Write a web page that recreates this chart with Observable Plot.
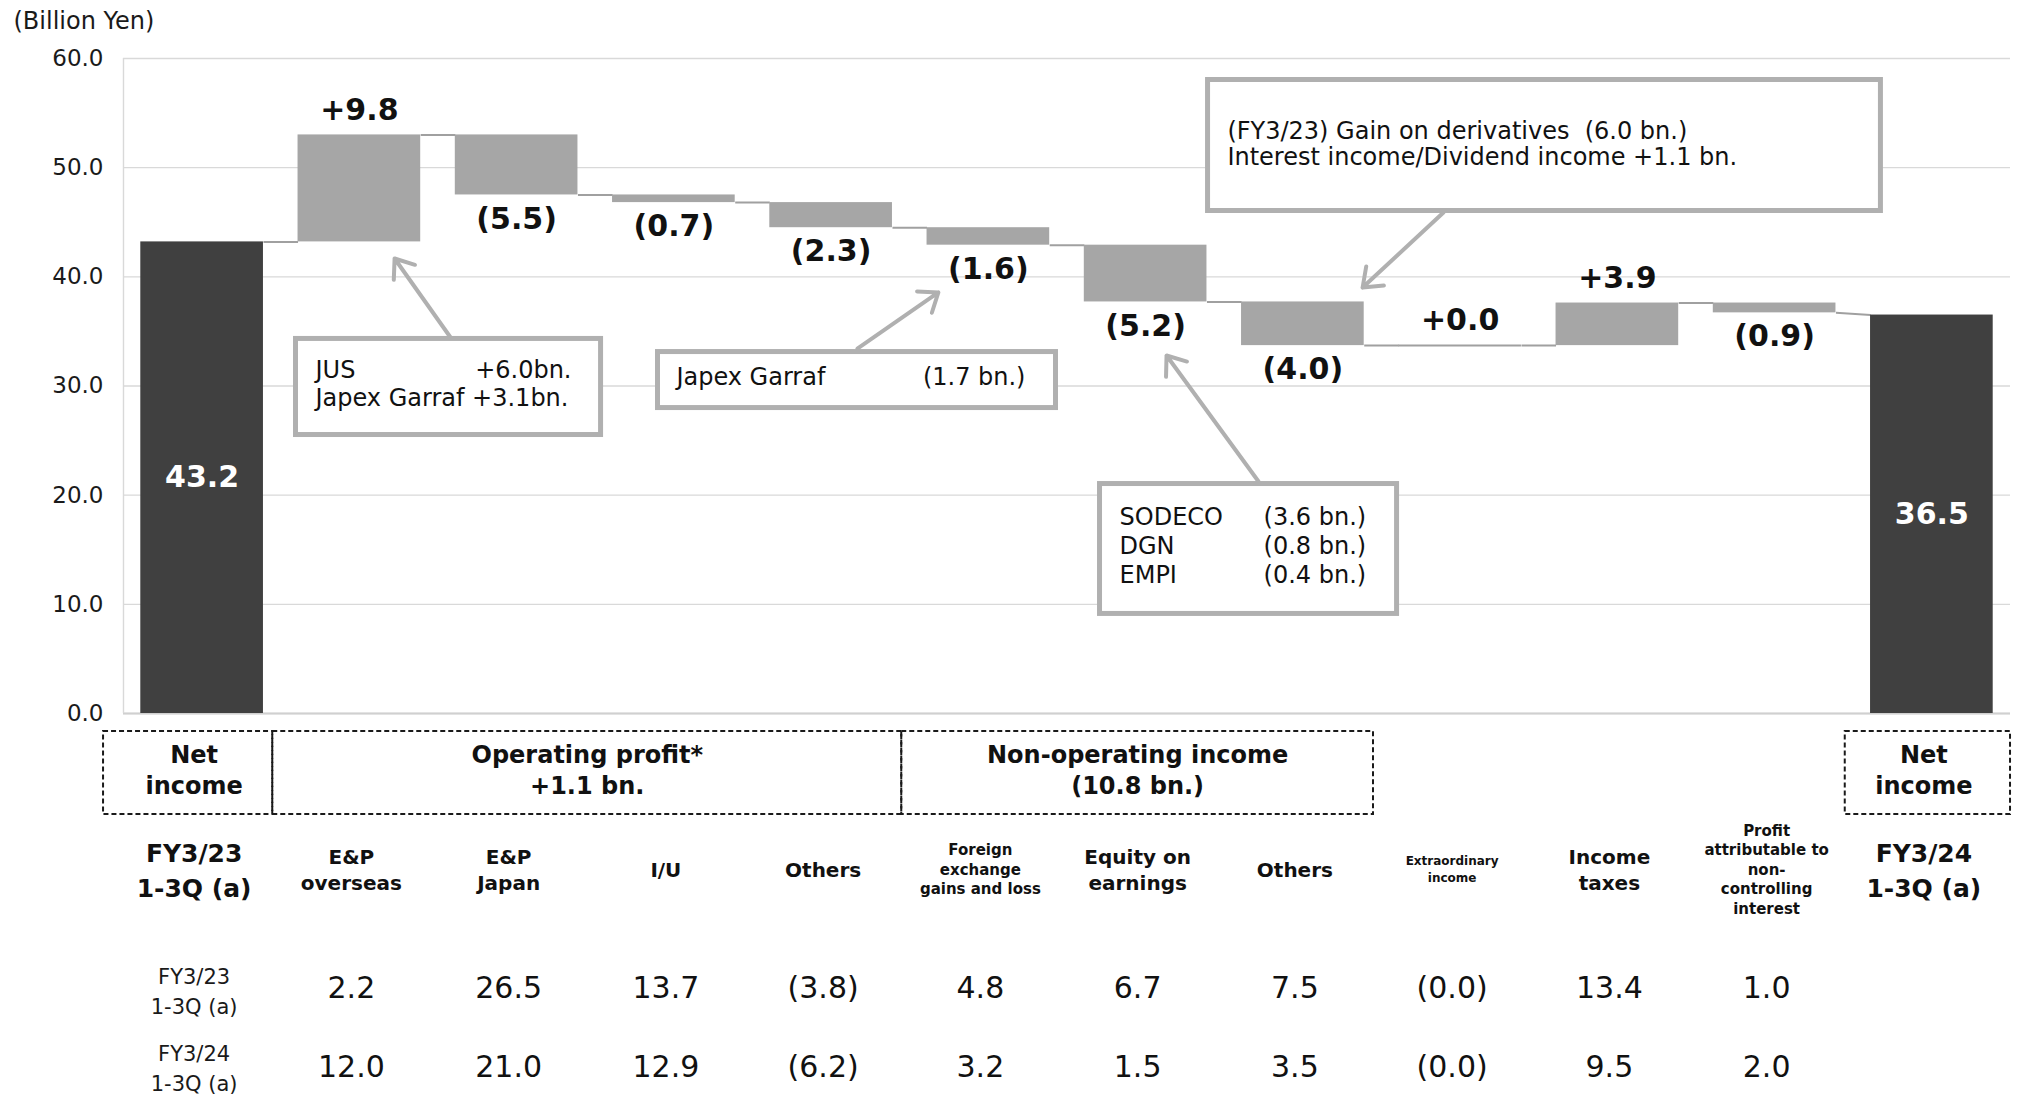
<!DOCTYPE html>
<html>
<head>
<meta charset="utf-8">
<script src="https://cdn.jsdelivr.net/npm/d3@7"></script>
<script src="https://cdn.jsdelivr.net/npm/@observablehq/plot@0.6"></script>
<style>
  html, body { margin: 0; padding: 0; background: #fff; }
  svg { display: block; }
</style>
</head>
<body>
<script>
// ---- Net income bridge (billion yen) ----
const startValue = 43.2;   // FY3/23 1-3Q net income
const endValue = 36.5;     // FY3/24 1-3Q net income
const changes = [9.8, -5.5, -0.7, -2.3, -1.6, -5.2, -4.0, 0.0, 3.9, -0.9];

const columnLabels = [
  "FY3/23\n1-3Q (a)",
  "E&P\noverseas",
  "E&P\nJapan",
  "I/U",
  "Others",
  "Foreign\nexchange\ngains and loss",
  "Equity on\nearnings",
  "Others",
  "Extraordinary\nincome",
  "Income\ntaxes",
  "Profit\nattributable to\nnon-\ncontrolling\ninterest",
  "FY3/24\n1-3Q (a)"
];

const rowLabels = ["FY3/23\n1-3Q (a)", "FY3/24\n1-3Q (a)"];
const prevYear = [2.2, 26.5, 13.7, -3.8, 4.8, 6.7, 7.5, -0.0, 13.4, 1.0];
const currYear = [12.0, 21.0, 12.9, -6.2, 3.2, 1.5, 3.5, -0.0, 9.5, 2.0];

const groupLabels = ["Net\nincome", "Operating profit*\n+1.1 bn.", "Non-operating income\n(10.8 bn.)", "Net\nincome"];
const groupFrom = [0, 1, 5, 11];
const groupTo = [0, 4, 7, 11];

const yTicks = [0, 10, 20, 30, 40, 50, 60];

// ---- derived tables ----
const fmt = v => (v < 0 || Object.is(v, -0)) ? `(${Math.abs(v).toFixed(1)})` : v.toFixed(1);
const fmtChange = v => v >= 0 ? "+" + v.toFixed(1) : fmt(v);

const bars = [{i: 0, y1: 0, y2: startValue, total: true}];
let level = startValue;
changes.forEach((c, k) => {
  const next = +(level + c).toFixed(1);
  bars.push({i: k + 1, y1: level, y2: next, change: c, total: false});
  level = next;
});
bars.push({i: 11, y1: 0, y2: endValue, total: true});

const half = 0.39; // half bar width, in column units
const connectors = d3.range(bars.length - 1).map(k => ({
  x1: bars[k].i + half, y1: bars[k].y2,
  x2: bars[k + 1].i - half, y2: bars[k + 1].total ? bars[k + 1].y2 : bars[k + 1].y1
}));

const deltaBars = bars.filter(d => !d.total);
const totalBars = bars.filter(d => d.total);
const groups = groupLabels.map((label, k) => ({label, from: groupFrom[k], to: groupTo[k]}));
const lastCol = columnLabels.length - 1;

// ---- callout notes (placed in chart units) ----
const noteStroke = "#b0b0b0";
const noteBoxes = [
  {x1: 0.597, x2: 2.537, y1: 25.51, y2: 34.31},
  {x1: 2.899, x2: 5.430, y1: 27.98, y2: 33.11},
  {x1: 5.710, x2: 7.599, y1: 9.12, y2: 21.02},
  {x1: 6.397, x2: 10.676, y1: 46.03, y2: 58.03}
];
const noteArrows = [
  {x1: 1.58, y1: 34.44, x2: 1.224, y2: 41.68},
  {x1: 4.167, y1: 33.43, x2: 4.682, y2: 38.57},
  {x1: 6.718, y1: 21.25, x2: 6.133, y2: 32.79},
  {x1: 7.894, y1: 45.89, x2: 7.38, y2: 39.02}
];
const noteTextStart = [
  {x: 0.721, y: 31.42, text: "JUS"},
  {x: 0.721, y: 28.85, text: "Japex Garraf +3.1bn."},
  {x: 3.016, y: 30.78, text: "Japex Garraf"},
  {x: 5.834, y: 17.95, text: "SODECO"},
  {x: 5.834, y: 15.30, text: "DGN"},
  {x: 5.834, y: 12.64, text: "EMPI"},
  {x: 6.75, y: 17.95, text: "(3.6 bn.)"},
  {x: 6.75, y: 15.30, text: "(0.8 bn.)"},
  {x: 6.75, y: 12.64, text: "(0.4 bn.)"},
  {x: 6.52, y: 53.31, text: "(FY3/23) Gain on derivatives\u00a0 (6.0 bn.)"},
  {x: 6.52, y: 50.93, text: "Interest income/Dividend income +1.1 bn."}
];
const noteTextEnd = [
  {x: 2.349, y: 31.42, text: "+6.0bn."},
  {x: 5.236, y: 30.78, text: "(1.7 bn.)"}
];

const xScale = {type: "linear", domain: [-0.5, 11.5], axis: null};
const font = "DejaVu Sans, Verdana, sans-serif";

const chart = Plot.plot({
  width: 2026,
  height: 725,
  marginLeft: 123,
  marginRight: 16,
  marginTop: 58,
  marginBottom: 12,
  x: xScale,
  y: {domain: [0, 60], axis: null},
  style: {fontFamily: font, background: "#fff", color: "#111"},
  marks: [
    Plot.gridY(yTicks, {stroke: "#d9d9d9", strokeOpacity: 1, strokeWidth: 1.4}),
    Plot.ruleY([0], {stroke: "#d0d0d0", strokeWidth: 2.2}),
    Plot.ruleX([-0.5], {y1: 0, y2: 60, stroke: "#d9d9d9", strokeWidth: 1.4}),
    Plot.axisY(yTicks, {
      tickSize: 0, tickPadding: 20, fontSize: 23, label: null,
      tickFormat: d => d.toFixed(1), fill: "#1a1a1a"
    }),
    Plot.text(["(Billion Yen)"], {
      frameAnchor: "top-left", dx: -110, dy: -37, textAnchor: "start", lineAnchor: "middle",
      fontSize: 24, fill: "#1a1a1a"
    }),
    Plot.link(connectors, {x1: "x1", y1: "y1", x2: "x2", y2: "y2", stroke: "#a0a0a0", strokeWidth: 2}),
    Plot.rectY(bars, {
      x1: d => d.i - half, x2: d => d.i + half, y1: "y1", y2: "y2",
      fill: d => d.total ? "#404040" : "#a6a6a6"
    }),
    // a change of zero still shows as a flat step
    Plot.ruleY(deltaBars.filter(d => d.y1 === d.y2), {
      y: "y1", x1: d => d.i - half, x2: d => d.i + half, stroke: "#a0a0a0", strokeWidth: 2
    }),
    Plot.text(deltaBars.filter(d => d.change >= 0), {
      x: "i", y: "y2", text: d => fmtChange(d.change), dy: -25,
      fontSize: 30, fontWeight: "bold", fill: "#111"
    }),
    Plot.text(deltaBars.filter(d => d.change < 0), {
      x: "i", y: "y2", text: d => fmtChange(d.change), dy: 24,
      fontSize: 30, fontWeight: "bold", fill: "#111"
    }),
    Plot.text(totalBars, {
      x: "i", y: d => d.y2 / 2, text: d => d.y2.toFixed(1),
      fontSize: 30, fontWeight: "bold", fill: "#fff"
    }),
    // callouts
    Plot.arrow(noteArrows, {
      x1: "x1", y1: "y1", x2: "x2", y2: "y2",
      stroke: noteStroke, strokeWidth: 4, headLength: 8, headAngle: 75
    }),
    Plot.rect(noteBoxes, {
      x1: "x1", x2: "x2", y1: "y1", y2: "y2",
      fill: "#fff", stroke: noteStroke, strokeWidth: 5
    }),
    Plot.text(noteTextStart, {x: "x", y: "y", text: "text", textAnchor: "start", fontSize: 24, fill: "#111"}),
    Plot.text(noteTextEnd, {x: "x", y: "y", text: "text", textAnchor: "end", fontSize: 24, fill: "#111"})
  ]
});

// ---- breakdown table under the bars ----
const headerCols = [0, 11];
const smallCols = [5, 10];
const tinyCols = [8];
const cols = columnLabels.map((label, i) => ({i, label}));
const normalCols = cols.filter(d => !headerCols.includes(d.i) && !smallCols.includes(d.i) && !tinyCols.includes(d.i));
const shift = -8;
const rowY = [263.5, 341];

const valueRows = [prevYear, currYear].flatMap((vals, r) =>
  vals.map((v, k) => ({i: k + 1, row: r, text: fmt(v)})));

const cell = {frameAnchor: "top", lineAnchor: "middle", dx: shift, fill: "#111"};

const table = Plot.plot({
  width: 2026,
  height: 370,
  marginLeft: 123,
  marginRight: 16,
  marginTop: 0,
  marginBottom: 0,
  x: xScale,
  style: {fontFamily: font, background: "#fff", color: "#111"},
  marks: [
    // dashed group frames; the outermost ones reach a little past the column edge
    Plot.rect(groups, {
      x1: d => d.from - 0.5 - (d.from === 0 ? 0.076 : 0),
      x2: d => d.to + 0.5 + (d.to === lastCol ? 0.051 : 0),
      dx: shift, insetTop: 6, insetBottom: 281,
      fill: "none", stroke: "#1a1a1a", strokeWidth: 2, strokeDasharray: "5,3"
    }),
    Plot.text(groups, {
      ...cell, x: d => (d.from + d.to) / 2, dy: 43.5,
      text: "label", fontSize: 24, fontWeight: "bold", lineHeight: 1.29
    }),
    Plot.text(cols.filter(d => headerCols.includes(d.i)), {
      ...cell, x: "i", dy: 143, text: "label",
      fontSize: 25, fontWeight: "bold", lineHeight: 1.4
    }),
    Plot.text(normalCols, {
      ...cell, x: "i", dy: 143, text: "label",
      fontSize: 20, fontWeight: "bold", lineHeight: 1.3
    }),
    Plot.text(cols.filter(d => smallCols.includes(d.i)), {
      ...cell, x: "i", dy: 143, text: "label",
      fontSize: 15, fontWeight: "bold", lineHeight: 1.3
    }),
    Plot.text(cols.filter(d => tinyCols.includes(d.i)), {
      ...cell, x: "i", dy: 143, text: "label",
      fontSize: 12, fontWeight: "bold", lineHeight: 1.42
    }),
    Plot.text([rowLabels[0]], {
      ...cell, x: () => 0, dy: rowY[0], text: d => d,
      fontSize: 21, lineHeight: 1.45, fill: "#1a1a1a"
    }),
    Plot.text([rowLabels[1]], {
      ...cell, x: () => 0, dy: rowY[1], text: d => d,
      fontSize: 21, lineHeight: 1.42, fill: "#1a1a1a"
    }),
    Plot.text(valueRows.filter(d => d.row === 0), {
      ...cell, x: "i", dy: 263, text: "text", fontSize: 30
    }),
    Plot.text(valueRows.filter(d => d.row === 1), {
      ...cell, x: "i", dy: 342, text: "text", fontSize: 30
    })
  ]
});

document.body.append(chart, table);
</script>
</body>
</html>
